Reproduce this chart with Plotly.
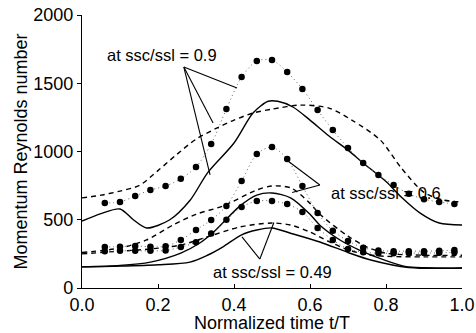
import plotly.graph_objects as go

# ---------------- data ----------------
t_dots = [0.06, 0.10, 0.14, 0.18, 0.22, 0.26, 0.30, 0.34, 0.38, 0.42, 0.46, 0.50,
          0.54, 0.58, 0.62, 0.66, 0.70, 0.74, 0.78, 0.82, 0.86, 0.90, 0.94, 0.98]
dots_09 = [623, 630, 674, 718, 747, 800, 886, 1055, 1311, 1546, 1663, 1670,
           1582, 1458, 1304, 1157, 1026, 916, 828, 755, 690, 650, 630, 615]
dots_06 = [300, 303, 308, 302, 305, 352, 425, 498, 600, 784, 982, 1033,
           945, 747, 549, 420, 345, 295, 275, 270, 270, 270, 272, 278]
dots_049 = [270, 272, 272, 272, 275, 300, 335, 400, 500, 593, 637, 637,
            615, 557, 440, 352, 286, 262, 255, 255, 256, 256, 258, 262]

t_solid_09 = [0, 0.05, 0.1, 0.135, 0.17, 0.23, 0.285, 0.33, 0.4, 0.45, 0.49, 0.515,
              0.555, 0.6, 0.65, 0.7, 0.74, 0.8, 0.84, 0.89, 0.94, 1.0]
solid_09 = [490, 545, 579, 500, 440, 498, 645, 842, 1062, 1282, 1368, 1368,
            1326, 1230, 1114, 1010, 916, 780, 667, 549, 476, 462]

t_dash_09 = [0, 0.05, 0.1, 0.15, 0.2, 0.25, 0.3, 0.35, 0.4, 0.45, 0.5, 0.575,
             0.65, 0.71, 0.785, 0.84, 0.9, 0.95, 1.0]
dash_09 = [660, 680, 710, 750, 860, 980, 1090, 1165, 1230, 1282, 1310, 1340,
           1318, 1230, 1084, 880, 700, 645, 630]

t_solid_06 = [0, 0.1, 0.18, 0.26, 0.31, 0.35, 0.415, 0.46, 0.5, 0.55, 0.6, 0.626,
              0.68, 0.73, 0.8, 0.85, 0.9, 1.0]
solid_06 = [155, 165, 190, 256, 330, 420, 600, 681, 696, 659, 540, 460,
            350, 278, 200, 158, 148, 146]

t_dash_06 = [0, 0.1, 0.17, 0.24, 0.3, 0.37, 0.46, 0.5, 0.55, 0.6, 0.626, 0.7,
             0.75, 0.8, 0.9, 1.0]
dash_06 = [260, 293, 352, 462, 540, 600, 718, 747, 733, 620, 540, 380,
           300, 255, 240, 240]

t_solid_049 = [0, 0.1, 0.2, 0.284, 0.33, 0.37, 0.42, 0.46, 0.5, 0.547, 0.626,
               0.7, 0.76, 0.86, 1.0]
solid_049 = [155, 160, 170, 190, 240, 300, 390, 425, 440, 403, 337,
             260, 205, 150, 146]

t_dash_049 = [0, 0.1, 0.18, 0.26, 0.33, 0.415, 0.5, 0.55, 0.6, 0.65, 0.7, 0.75,
              0.8, 0.9, 1.0]
dash_049 = [250, 270, 286, 315, 374, 447, 476, 461, 410, 340, 280, 245,
            232, 228, 228]

x_ticks = [0.0, 0.2, 0.4, 0.6, 0.8, 1.0]
x_tick_text = ["0.0", "0.2", "0.4", "0.6", "0.8", "1.0"]
y_ticks = [0, 500, 1000, 1500, 2000]

# annotation labels: (text, text x, text y, apex x, apex y, pointer ends)
labels = [
    ("at ssc/ssl = 0.9", 0.21, 1707, 0.268, 1619,
     [(0.408, 1465), (0.345, 1209), (0.337, 828)]),
    ("at ssc/ssl = 0.6", 0.80, 696, 0.626, 755,
     [(0.542, 930), (0.553, 700)]),
    ("at ssc/ssl = 0.49", 0.50, 117, 0.468, 212,
     [(0.421, 374), (0.505, 480)]),
]

FONT = "Liberation Sans, Arial, Helvetica, sans-serif"

fig = go.Figure()

solid_style = dict(color="black", width=1.4, shape="spline", smoothing=0.8)
dash_style = dict(color="black", width=1.4, dash="5px,4px", shape="spline", smoothing=0.8)

for tx, ty in [(t_solid_09, solid_09), (t_solid_06, solid_06), (t_solid_049, solid_049)]:
    fig.add_trace(go.Scatter(x=tx, y=ty, mode="lines", line=solid_style,
                             showlegend=False, hoverinfo="skip"))
for tx, ty in [(t_dash_09, dash_09), (t_dash_06, dash_06), (t_dash_049, dash_049)]:
    fig.add_trace(go.Scatter(x=tx, y=ty, mode="lines", line=dash_style,
                             showlegend=False, hoverinfo="skip"))
for ty in [dots_09, dots_06, dots_049]:
    fig.add_trace(go.Scatter(x=t_dots, y=ty, mode="lines+markers",
                             line=dict(color="#666666", width=1, dash="1px,3px",
                                       shape="spline", smoothing=0.8),
                             marker=dict(color="black", size=6.5),
                             showlegend=False, hoverinfo="skip"))

for text, tx, ty, ax, ay, ends in labels:
    fig.add_annotation(x=tx, y=ty, text=text, showarrow=False,
                       font=dict(size=16.5, color="black", family=FONT))
    for ex, ey in ends:
        fig.add_shape(type="line", x0=ax, y0=ay, x1=ex, y1=ey,
                      line=dict(color="black", width=1.1))

fig.update_layout(
    width=476, height=333,
    margin=dict(l=82, r=14, t=15, b=45),
    paper_bgcolor="white", plot_bgcolor="white",
    font=dict(family=FONT, size=18, color="black"),
)
fig.update_xaxes(range=[0, 1], tickvals=x_ticks, ticktext=x_tick_text,
                 showline=True, linecolor="black", linewidth=1.2,
                 ticks="inside", ticklen=4, tickcolor="black",
                 showgrid=False, zeroline=False, automargin=False,
                 title=dict(text="Normalized time t/T", standoff=0,
                            font=dict(size=18)))
fig.update_yaxes(range=[0, 2000], tickvals=y_ticks,
                 showline=True, linecolor="black", linewidth=1.2,
                 ticks="outside", ticklen=4, tickcolor="black",
                 showgrid=False, zeroline=False, automargin=False,
                 title=dict(text="Momentum Reynolds number", standoff=0,
                            font=dict(size=18)))

fig.write_html("out.html")
